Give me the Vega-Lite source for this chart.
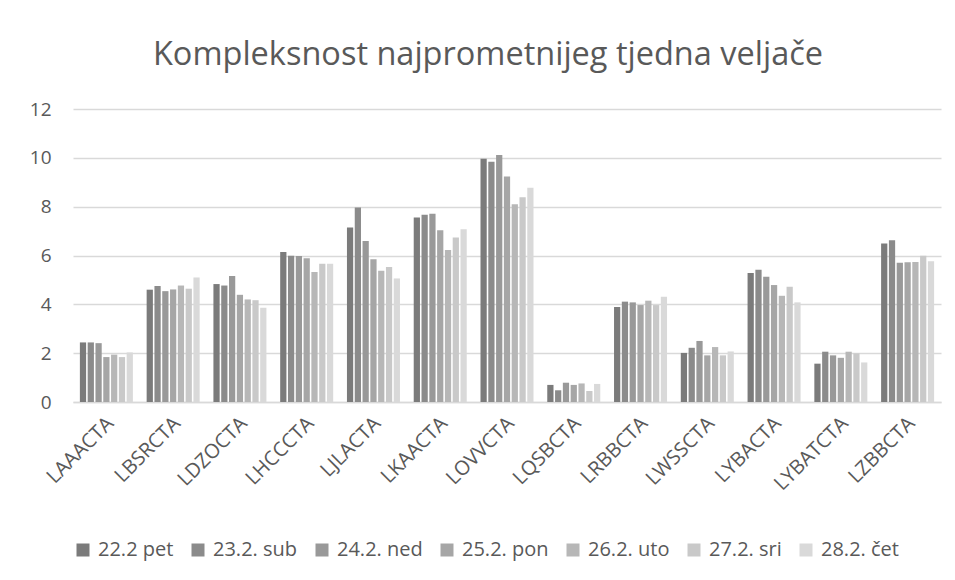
{
  "$schema": "https://vega.github.io/schema/vega-lite/v6.json",
  "width": 868,
  "height": 293,
  "autosize": {"type": "none"},
  "padding": {"left": 73, "top": 109, "right": 14, "bottom": 178},
  "background": "white",
  "title": {
    "text": "Kompleksnost najprometnijeg tjedna veljače",
    "fontSize": 32.5,
    "font": "Open Sans",
    "fontWeight": "normal",
    "color": "#595959",
    "anchor": "middle",
    "dx": -19,
    "offset": 29
  },
  "data": {
    "values": [
      {"s": "LAAACTA", "d": "22.2 pet", "v": 2.44}, {"s": "LAAACTA", "d": "23.2. sub", "v": 2.44}, {"s": "LAAACTA", "d": "24.2. ned", "v": 2.41}, {"s": "LAAACTA", "d": "25.2. pon", "v": 1.84}, {"s": "LAAACTA", "d": "26.2. uto", "v": 1.94}, {"s": "LAAACTA", "d": "27.2. sri", "v": 1.84}, {"s": "LAAACTA", "d": "28.2. čet", "v": 2.03},
      {"s": "LBSRCTA", "d": "22.2 pet", "v": 4.60}, {"s": "LBSRCTA", "d": "23.2. sub", "v": 4.75}, {"s": "LBSRCTA", "d": "24.2. ned", "v": 4.54}, {"s": "LBSRCTA", "d": "25.2. pon", "v": 4.61}, {"s": "LBSRCTA", "d": "26.2. uto", "v": 4.77}, {"s": "LBSRCTA", "d": "27.2. sri", "v": 4.64}, {"s": "LBSRCTA", "d": "28.2. čet", "v": 5.10},
      {"s": "LDZOCTA", "d": "22.2 pet", "v": 4.83}, {"s": "LDZOCTA", "d": "23.2. sub", "v": 4.77}, {"s": "LDZOCTA", "d": "24.2. ned", "v": 5.16}, {"s": "LDZOCTA", "d": "25.2. pon", "v": 4.39}, {"s": "LDZOCTA", "d": "26.2. uto", "v": 4.20}, {"s": "LDZOCTA", "d": "27.2. sri", "v": 4.17}, {"s": "LDZOCTA", "d": "28.2. čet", "v": 3.86},
      {"s": "LHCCCTA", "d": "22.2 pet", "v": 6.14}, {"s": "LHCCCTA", "d": "23.2. sub", "v": 5.99}, {"s": "LHCCCTA", "d": "24.2. ned", "v": 5.98}, {"s": "LHCCCTA", "d": "25.2. pon", "v": 5.89}, {"s": "LHCCCTA", "d": "26.2. uto", "v": 5.32}, {"s": "LHCCCTA", "d": "27.2. sri", "v": 5.66}, {"s": "LHCCCTA", "d": "28.2. čet", "v": 5.66},
      {"s": "LJLACTA", "d": "22.2 pet", "v": 7.15}, {"s": "LJLACTA", "d": "23.2. sub", "v": 7.97}, {"s": "LJLACTA", "d": "24.2. ned", "v": 6.59}, {"s": "LJLACTA", "d": "25.2. pon", "v": 5.85}, {"s": "LJLACTA", "d": "26.2. uto", "v": 5.38}, {"s": "LJLACTA", "d": "27.2. sri", "v": 5.53}, {"s": "LJLACTA", "d": "28.2. čet", "v": 5.06},
      {"s": "LKAACTA", "d": "22.2 pet", "v": 7.56}, {"s": "LKAACTA", "d": "23.2. sub", "v": 7.67}, {"s": "LKAACTA", "d": "24.2. ned", "v": 7.71}, {"s": "LKAACTA", "d": "25.2. pon", "v": 7.03}, {"s": "LKAACTA", "d": "26.2. uto", "v": 6.23}, {"s": "LKAACTA", "d": "27.2. sri", "v": 6.74}, {"s": "LKAACTA", "d": "28.2. čet", "v": 7.07},
      {"s": "LOVVCTA", "d": "22.2 pet", "v": 9.96}, {"s": "LOVVCTA", "d": "23.2. sub", "v": 9.84}, {"s": "LOVVCTA", "d": "24.2. ned", "v": 10.12}, {"s": "LOVVCTA", "d": "25.2. pon", "v": 9.24}, {"s": "LOVVCTA", "d": "26.2. uto", "v": 8.10}, {"s": "LOVVCTA", "d": "27.2. sri", "v": 8.39}, {"s": "LOVVCTA", "d": "28.2. čet", "v": 8.77},
      {"s": "LQSBCTA", "d": "22.2 pet", "v": 0.70}, {"s": "LQSBCTA", "d": "23.2. sub", "v": 0.48}, {"s": "LQSBCTA", "d": "24.2. ned", "v": 0.79}, {"s": "LQSBCTA", "d": "25.2. pon", "v": 0.70}, {"s": "LQSBCTA", "d": "26.2. uto", "v": 0.76}, {"s": "LQSBCTA", "d": "27.2. sri", "v": 0.45}, {"s": "LQSBCTA", "d": "28.2. čet", "v": 0.74},
      {"s": "LRBBCTA", "d": "22.2 pet", "v": 3.89}, {"s": "LRBBCTA", "d": "23.2. sub", "v": 4.11}, {"s": "LRBBCTA", "d": "24.2. ned", "v": 4.08}, {"s": "LRBBCTA", "d": "25.2. pon", "v": 3.97}, {"s": "LRBBCTA", "d": "26.2. uto", "v": 4.15}, {"s": "LRBBCTA", "d": "27.2. sri", "v": 3.97}, {"s": "LRBBCTA", "d": "28.2. čet", "v": 4.31},
      {"s": "LWSSCTA", "d": "22.2 pet", "v": 2.01}, {"s": "LWSSCTA", "d": "23.2. sub", "v": 2.22}, {"s": "LWSSCTA", "d": "24.2. ned", "v": 2.50}, {"s": "LWSSCTA", "d": "25.2. pon", "v": 1.91}, {"s": "LWSSCTA", "d": "26.2. uto", "v": 2.25}, {"s": "LWSSCTA", "d": "27.2. sri", "v": 1.91}, {"s": "LWSSCTA", "d": "28.2. čet", "v": 2.07},
      {"s": "LYBACTA", "d": "22.2 pet", "v": 5.28}, {"s": "LYBACTA", "d": "23.2. sub", "v": 5.42}, {"s": "LYBACTA", "d": "24.2. ned", "v": 5.13}, {"s": "LYBACTA", "d": "25.2. pon", "v": 4.79}, {"s": "LYBACTA", "d": "26.2. uto", "v": 4.35}, {"s": "LYBACTA", "d": "27.2. sri", "v": 4.72}, {"s": "LYBACTA", "d": "28.2. čet", "v": 4.08},
      {"s": "LYBATCTA", "d": "22.2 pet", "v": 1.57}, {"s": "LYBATCTA", "d": "23.2. sub", "v": 2.06}, {"s": "LYBATCTA", "d": "24.2. ned", "v": 1.91}, {"s": "LYBATCTA", "d": "25.2. pon", "v": 1.81}, {"s": "LYBATCTA", "d": "26.2. uto", "v": 2.06}, {"s": "LYBATCTA", "d": "27.2. sri", "v": 1.99}, {"s": "LYBATCTA", "d": "28.2. čet", "v": 1.62},
      {"s": "LZBBCTA", "d": "22.2 pet", "v": 6.49}, {"s": "LZBBCTA", "d": "23.2. sub", "v": 6.62}, {"s": "LZBBCTA", "d": "24.2. ned", "v": 5.70}, {"s": "LZBBCTA", "d": "25.2. pon", "v": 5.72}, {"s": "LZBBCTA", "d": "26.2. uto", "v": 5.73}, {"s": "LZBBCTA", "d": "27.2. sri", "v": 5.99}, {"s": "LZBBCTA", "d": "28.2. čet", "v": 5.76}
    ]
  },
  "mark": {"type": "bar"},
  "encoding": {
    "x": {
      "field": "s", "type": "nominal", "sort": null,
      "scale": {"paddingInner": 0.206, "paddingOuter": 0.103},
      "axis": {
        "title": null, "labelAngle": -45, "labelAlign": "right", "labelBaseline": "middle",
        "labelFontSize": 20, "labelFont": "Open Sans", "labelColor": "#595959", "labelPadding": 18, "labelOffset": 4,
        "ticks": false, "domainColor": "#d9d9d9", "domainWidth": 1.5
      }
    },
    "xOffset": {
      "field": "d", "type": "nominal", "sort": null,
      "scale": {"paddingInner": 0.2, "paddingOuter": 0}
    },
    "y": {
      "field": "v", "type": "quantitative",
      "scale": {"domain": [0, 12], "nice": false},
      "axis": {
        "title": null, "values": [0, 2, 4, 6, 8, 10, 12], "domain": false, "ticks": false,
        "labelFontSize": 19, "labelFont": "Open Sans", "labelColor": "#595959", "labelPadding": 22,
        "gridColor": "#d9d9d9", "gridWidth": 1.5
      }
    },
    "color": {
      "field": "d", "type": "nominal", "sort": null,
      "scale": {
        "domain": ["22.2 pet", "23.2. sub", "24.2. ned", "25.2. pon", "26.2. uto", "27.2. sri", "28.2. čet"],
        "range": ["#7b7b7b", "#8b8b8b", "#999999", "#a6a6a6", "#b7b7b7", "#c9c9c9", "#d9d9d9"]
      },
      "legend": {
        "title": null, "orient": "bottom", "direction": "horizontal", "columns": 7,
        "symbolType": "square", "symbolSize": 169, "symbolStrokeWidth": 0,
        "labelFontSize": 20, "labelFont": "Open Sans", "labelColor": "#595959",
        "columnPadding": 14, "labelOffset": 5, "offset": 46
      }
    }
  },
  "config": {"view": {"stroke": null}}
}
